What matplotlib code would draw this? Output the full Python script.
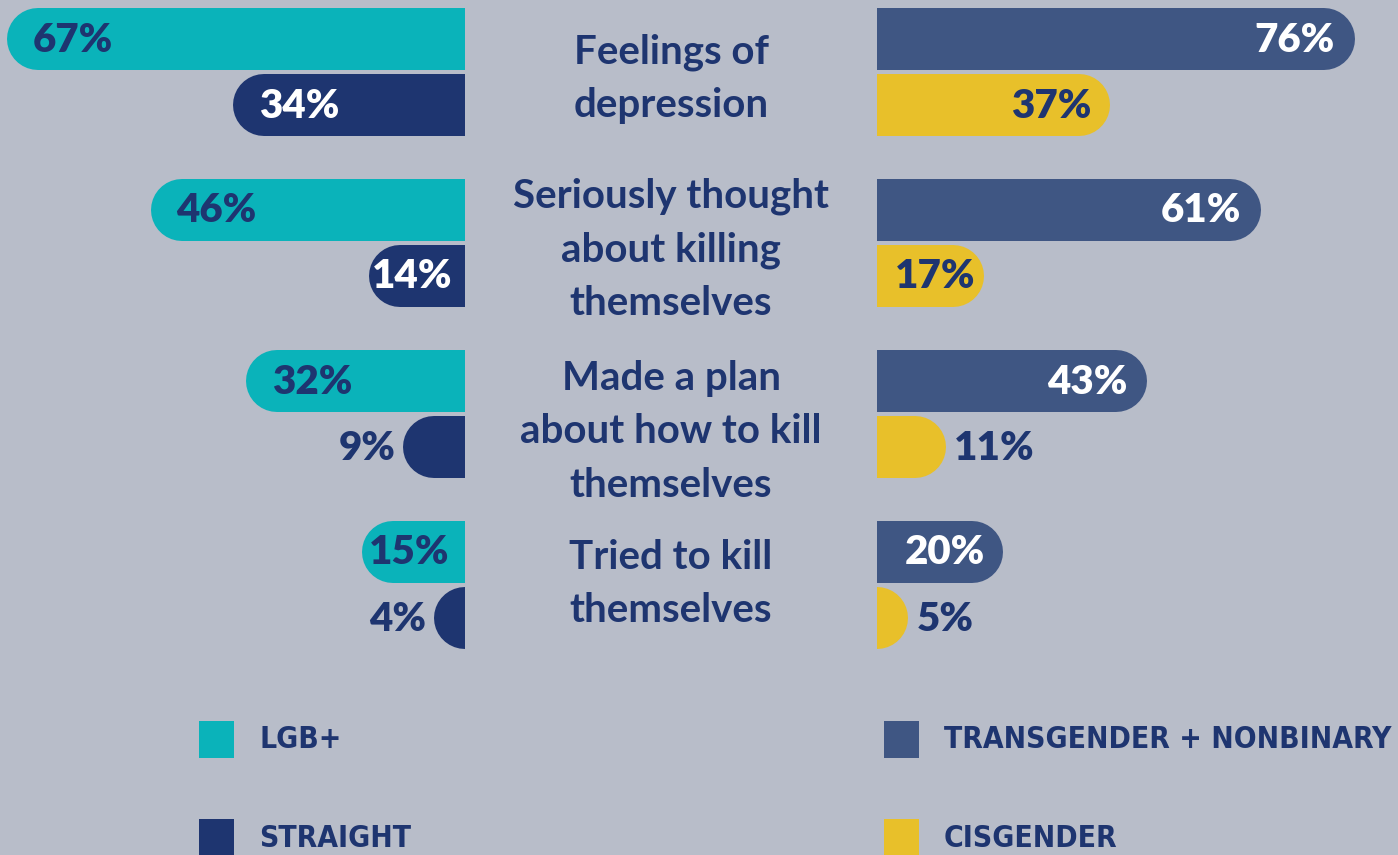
import matplotlib.pyplot as plt
from matplotlib.patches import Rectangle
from matplotlib import transforms

# data
questions = ['Feelings of\ndepression',
             'Seriously thought\nabout killing\nthemselves',
             'Made a plan\nabout how to kill\nthemselves',
             'Tried to kill\nthemselves']
lgb = [67, 46, 32, 15]
straight = [34, 14, 9, 4]
trans_nb = [76, 61, 43, 20]
cisgender = [37, 17, 11, 5]
series_names = ['LGB+', 'STRAIGHT', 'TRANSGENDER + NONBINARY', 'CISGENDER']

bg = '#b8bdc9'
teal = '#0ab3ba'
navy = '#1e3570'
slate = '#3f5683'
yellow = '#e8c02a'

W, H = 1398, 855
fig = plt.figure(figsize=(W / 100, H / 100), dpi=100, facecolor=bg)

axL = fig.add_axes([0, 0, 465 / W, 1])
axR = fig.add_axes([877 / W, 0, (W - 877) / W, 1])
left_scale, right_scale = 6.836, 6.29   # px per percent
axL.set_xlim(465 / left_scale, 0)
axR.set_xlim(0, (W - 877) / right_scale)
for ax in (axL, axR):
    ax.set_ylim((H - 72) / 171, -72 / 171)
    ax.axis('off')
    ax.patch.set_alpha(0)

bar_px = 62
lw = bar_px * 72 / 100
off = 33 / 171
num_font = dict(family=['Lato', 'DejaVu Sans'], fontweight='heavy', fontsize=29)


def draw_bars(ax, vals, dy, color, side, inside_color, scale, pad):
    r = bar_px / 2 / scale
    sign = 1 if side == 'right' else -1
    for i, v in enumerate(vals):
        y = i + dy
        # start beyond the axis edge so the inner cap is clipped flat
        ax.plot([-r, max(v - r, 0.01)], [y, y], lw=lw, color=color,
                solid_capstyle='round', zorder=2)
        end = max(v, r)
        if v >= 25:
            ax.annotate(f'{v}%', (end, y), xytext=(-sign * pad, -1),
                        textcoords='offset pixels', ha=side, va='center',
                        color=inside_color, **num_font)
        elif v >= 12:
            ax.annotate(f'{v}%', (end / 2, y), xytext=(sign * 5, -1),
                        textcoords='offset pixels', ha='center', va='center',
                        color=inside_color, **num_font)
        else:
            ax.annotate(f'{v}%', (end, y), xytext=(sign * 8, -1),
                        textcoords='offset pixels',
                        ha='left' if side == 'right' else 'right',
                        va='center', color=navy, **num_font)


draw_bars(axL, lgb, -off, teal, 'left', navy, left_scale, 26)
draw_bars(axL, straight, off, navy, 'left', 'white', left_scale, 26)
draw_bars(axR, trans_nb, -off, slate, 'right', 'white', right_scale, 20)
draw_bars(axR, cisgender, off, yellow, 'right', navy, right_scale, 18)

tr = transforms.blended_transform_factory(fig.transFigure, axL.transData)
text_dy = [0.04, 0.04, 0.105, -0.005]
for i, q in enumerate(questions):
    fig.text(671 / W, i + text_dy[i], q, transform=tr, ha='center',
             va='center', color=navy, fontsize=29, fontweight='bold',
             family=['Lato', 'DejaVu Sans'], linespacing=1.55)

# legend
leg_colors = [teal, navy, slate, yellow]
leg_pos = [(199, 721), (199, 819), (884, 721), (884, 819)]
for name, c, (x, y) in zip(series_names, leg_colors, leg_pos):
    fig.add_artist(Rectangle((x / W, 1 - (y + 37) / H), 35 / W, 37 / H,
                             transform=fig.transFigure, color=c, lw=0))
    fig.text((x + 60) / W, 1 - (y + 19) / H, name, ha='left', va='center',
             color=navy, fontsize=21.5, fontweight='bold',
             fontstretch='condensed', family=['DejaVu Sans'])

fig.savefig('out.png', dpi=100, facecolor=bg)
